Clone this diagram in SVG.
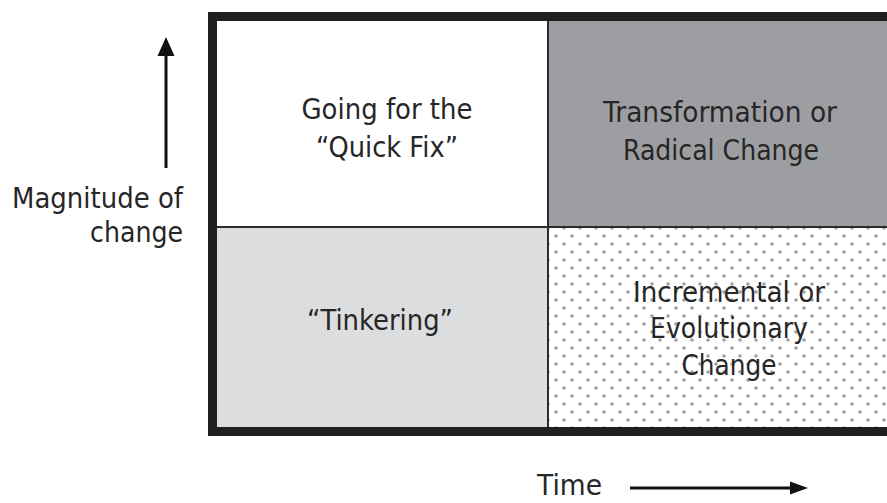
<svg xmlns="http://www.w3.org/2000/svg" width="887" height="503" viewBox="0 0 887 503">
<style>
.t{font-family:"DejaVu Sans","Liberation Sans",sans-serif;font-size:28px;fill:#262626}
.c{text-anchor:middle}
.r{text-anchor:end}
.div{stroke:#2b2b2b;stroke-width:2;fill:none}
.ax{stroke:#111;stroke-width:3;fill:none}
.hd{fill:#111}
</style>
<defs>
<pattern id="dots" x="0" y="0" width="16" height="16" patternUnits="userSpaceOnUse">
<rect width="16" height="16" fill="#ffffff"/>
<circle cx="4" cy="4" r="1.8" fill="#a0a0a0"/>
<circle cx="12" cy="12" r="1.8" fill="#a0a0a0"/>
</pattern>
</defs>
<rect width="887" height="503" fill="#ffffff"/>
<g id="q-quickfix">
<rect x="217" y="21" width="331" height="206" fill="#ffffff"/>
<text class="t c" x="387" y="119" textLength="171" lengthAdjust="spacingAndGlyphs">Going for the</text>
<text class="t c" x="387" y="157" textLength="142" lengthAdjust="spacingAndGlyphs">“Quick Fix”</text>
</g>
<g id="q-transformation">
<rect x="548" y="21" width="345" height="206" fill="#9d9ea2"/>
<text class="t c" x="720" y="122" textLength="234" lengthAdjust="spacingAndGlyphs">Transformation or</text>
<text class="t c" x="721" y="160" textLength="196" lengthAdjust="spacingAndGlyphs">Radical Change</text>
</g>
<g id="q-tinkering">
<rect x="217" y="227" width="331" height="200" fill="#dcdddf"/>
<text class="t c" x="380" y="330" textLength="146" lengthAdjust="spacingAndGlyphs">“Tinkering”</text>
</g>
<g id="q-incremental">
<rect x="548" y="227" width="345" height="200" fill="url(#dots)"/>
<text class="t c" x="729" y="302" textLength="192" lengthAdjust="spacingAndGlyphs">Incremental or</text>
<text class="t c" x="729" y="338" textLength="158" lengthAdjust="spacingAndGlyphs">Evolutionary</text>
<text class="t c" x="729" y="375" textLength="95" lengthAdjust="spacingAndGlyphs">Change</text>
</g>
<g id="frame">
<line class="div" x1="548" y1="21" x2="548" y2="427"/>
<line class="div" x1="217" y1="227" x2="887" y2="227"/>
<path d="M900 16.5 H212.5 V431.5 H900" fill="none" stroke="#1f1f1f" stroke-width="9"/>
</g>
<g id="axis-labels">
<text class="t r" x="183" y="208" textLength="171" lengthAdjust="spacingAndGlyphs">Magnitude of</text>
<text class="t r" x="183" y="242" textLength="93" lengthAdjust="spacingAndGlyphs">change</text>
<text class="t" x="537" y="495" textLength="65" lengthAdjust="spacingAndGlyphs">Time</text>
</g>
<g id="connectors">
<line class="ax" x1="166" y1="168" x2="166" y2="52"/>
<polygon class="hd" points="166,37 157.5,56 174.5,56"/>
<line class="ax" x1="630" y1="488" x2="793" y2="488"/>
<polygon class="hd" points="808,488 790,481.5 790,494.5"/>
</g>
</svg>
